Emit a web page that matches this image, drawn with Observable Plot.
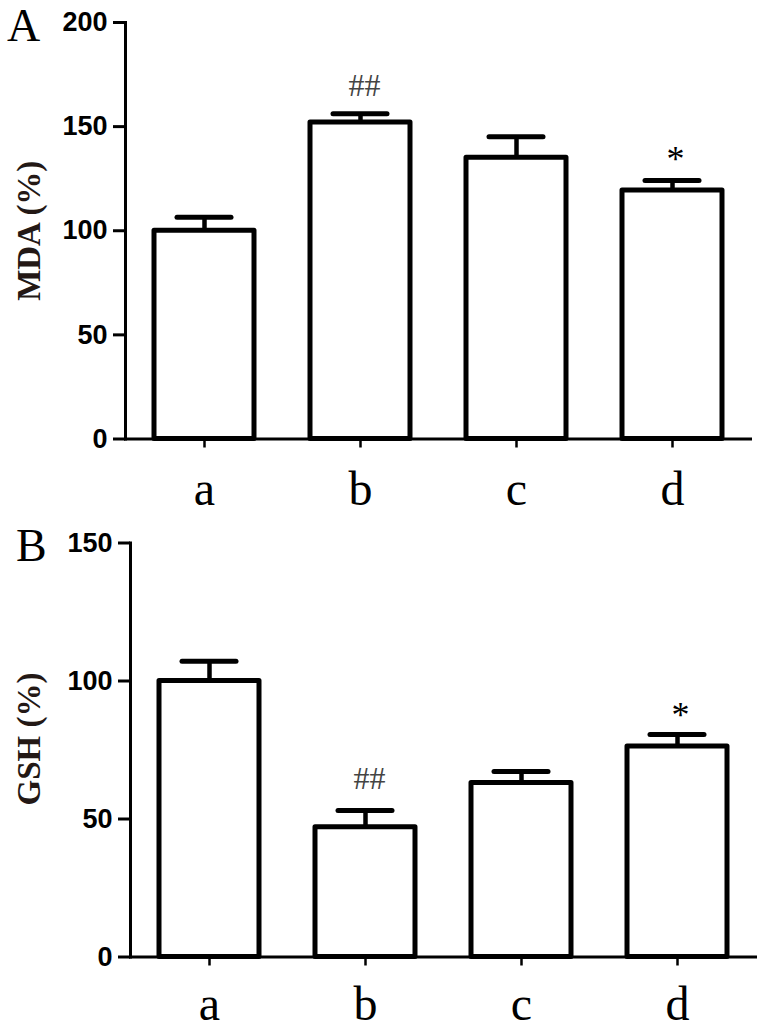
<!DOCTYPE html>
<html><head><meta charset="utf-8">
<script src="https://cdn.jsdelivr.net/npm/d3@7"></script>
<script src="https://cdn.jsdelivr.net/npm/@observablehq/plot@0.6"></script>
<style>
body{margin:0;background:#fff;}
#wrap{position:relative;width:764px;height:1034px;overflow:hidden;}
.panel{position:absolute;left:0;}
.letter{position:absolute;font-family:"Liberation Serif","Times New Roman",serif;font-size:46px;line-height:1;color:#000;}
</style></head><body>
<div id="wrap">
<div id="pa" class="panel" style="top:0px"></div>
<div id="pb" class="panel" style="top:520px"></div>
<div class="letter" style="left:7px;top:2.5px">A</div>
<div class="letter" style="left:16px;top:522.5px">B</div>
</div>
<script>
const categories = ["a", "b", "c", "d"];
const mdaMean = [100, 152, 135, 119.3];
const mdaErr = [6.5, 4.2, 10.1, 4.8];
const mdaMarks = ["", "##", "", "*"];
const mdaTicks = [0, 50, 100, 150, 200];
const gshMean = [100, 47, 63, 76.3];
const gshErr = [7.2, 6.1, 4.2, 4.3];
const gshMarks = ["", "##", "", "*"];
const gshTicks = [0, 50, 100, 150];

function panel(o) {
  const rows = categories.map((c, i) => ({cat: c, mean: o.means[i], top: o.means[i] + o.errs[i], mark: o.marks[i]}));
  return Plot.plot({
    width: 764, height: o.height,
    marginLeft: o.marginLeft, marginRight: o.marginRight, marginTop: o.marginTop, marginBottom: o.marginBottom,
    style: {background: "white", color: "black"},
    x: {domain: categories, paddingInner: 0.36, paddingOuter: 0.18},
    y: {domain: [0, o.yMax]},
    marks: [
      Plot.barY(rows, {x: "cat", y: "mean", fill: "white", stroke: "black", strokeWidth: 5, strokeLinejoin: "round"}),
      Plot.ruleX(rows, {x: "cat", y1: "mean", y2: "top", stroke: "black", strokeWidth: 4.5}),
      Plot.tickY(rows, {x: "cat", y: "top", stroke: "black", strokeWidth: 5, strokeLinecap: "round", insetLeft: 23, insetRight: 23}),
      Plot.frame({anchor: "left", stroke: "black", strokeWidth: 3}),
      Plot.frame({anchor: "bottom", stroke: "black", strokeWidth: 3}),
      Plot.axisY({ticks: o.ticks, tickSize: 12, strokeWidth: 3, label: null, tickFormat: () => ""}),
      Plot.text(o.ticks, {y: d => d, text: d => String(d), frameAnchor: "left", textAnchor: "end", lineAnchor: "middle",
        dx: -18, fontSize: 27, fontWeight: "bold", fontFamily: "'Liberation Sans', Arial, sans-serif", fill: "black"}),
      Plot.axisX({tickSize: 9, strokeWidth: 2.5, tickPadding: o.tickPadding, fontSize: 48,
        fontFamily: "'Liberation Serif', 'Times New Roman', serif", label: null}),
      Plot.text(rows.filter(d => d.mark === "##"), {x: "cat", y: "top", text: "mark", dx: 4, dy: o.hashDy,
        fontSize: 32, fontFamily: "'Liberation Serif', 'Times New Roman', serif", fill: "#444"}),
      Plot.text(rows.filter(d => d.mark === "*"), {x: "cat", y: "top", text: "mark", dx: 3, dy: o.starDy,
        fontSize: 36, fontFamily: "'Liberation Serif', 'Times New Roman', serif", fill: "black"}),
      Plot.text([o.label], {frameAnchor: "left", text: d => d, rotate: -90, textAnchor: "middle", lineAnchor: "middle",
        dx: o.labelDx, dy: o.labelDy, fontSize: 33, fontWeight: "bold",
        fontFamily: "'Liberation Serif', 'Times New Roman', serif", fill: "#231815"})
    ]
  });
}

document.getElementById("pa").append(panel({
  means: mdaMean, errs: mdaErr, marks: mdaMarks, ticks: mdaTicks, yMax: 200, label: "MDA (%)",
  height: 520, marginLeft: 125, marginRight: 14, marginTop: 22, marginBottom: 81.5,
  tickPadding: 23, hashDy: -28, starDy: -21, labelDx: -96, labelDy: 0
}));
document.getElementById("pb").append(panel({
  means: gshMean, errs: gshErr, marks: gshMarks, ticks: gshTicks, yMax: 150, label: "GSH (%)",
  height: 514, marginLeft: 130, marginRight: 9, marginTop: 22.5, marginBottom: 77.5,
  tickPadding: 19.5, hashDy: -32, starDy: -19, labelDx: -101, labelDy: -11
}));
</script>
</body></html>
